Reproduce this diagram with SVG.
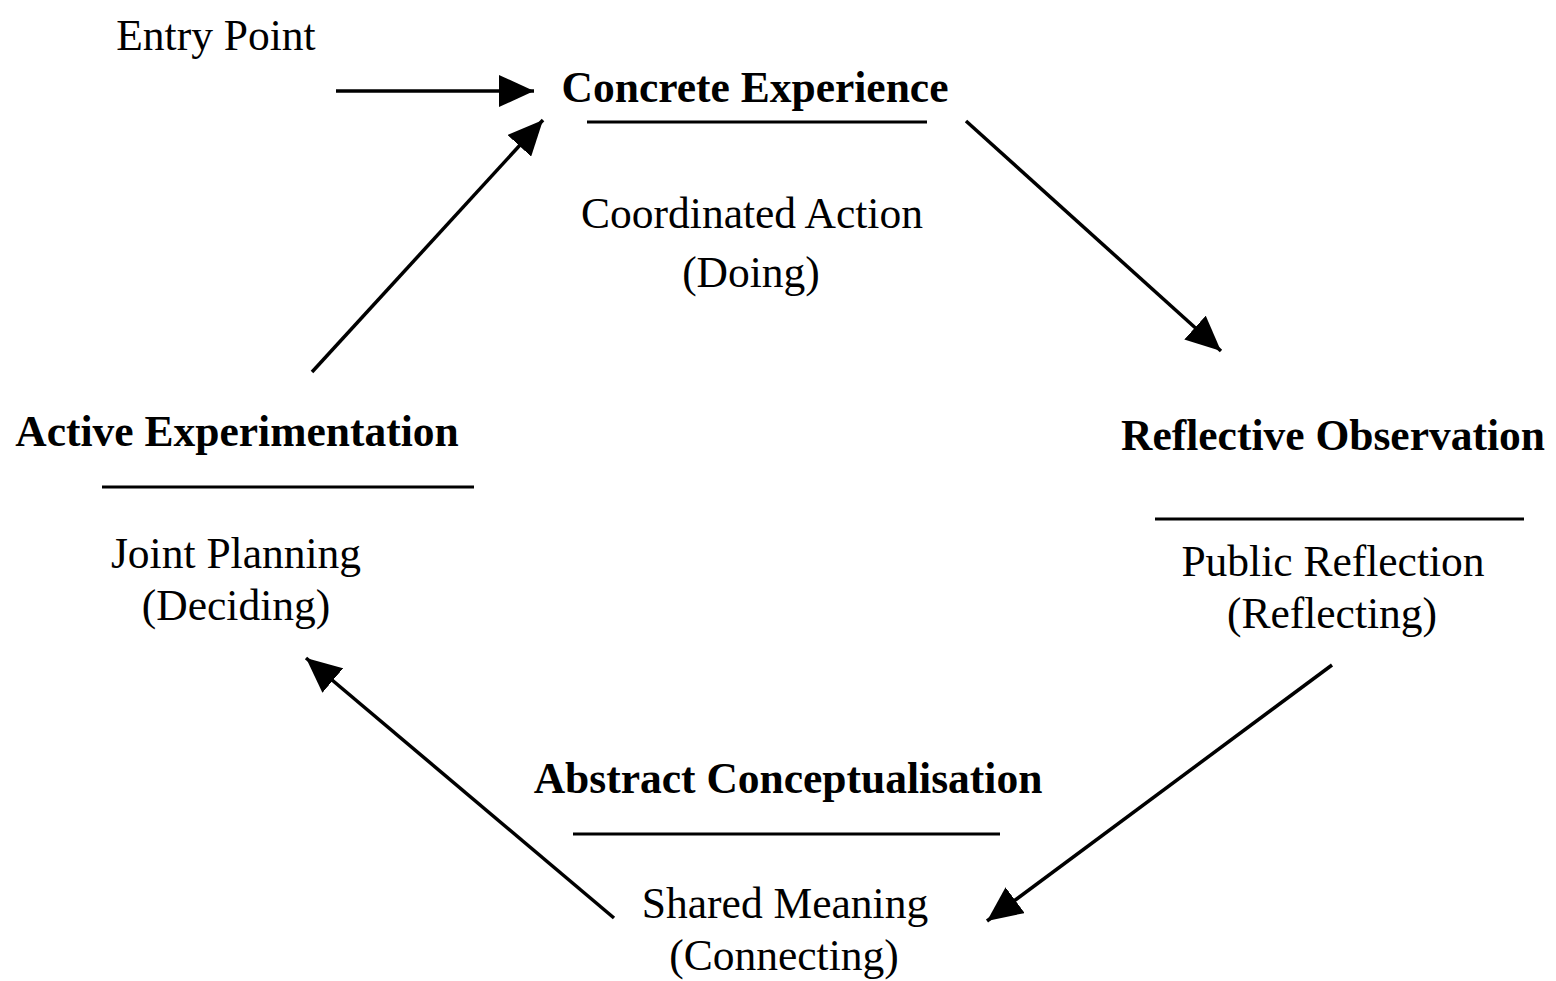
<svg xmlns="http://www.w3.org/2000/svg" width="1556" height="981" viewBox="0 0 1556 981">
<style>
text{font-family:"Liberation Serif","Times New Roman",serif;font-size:43.5px;fill:#000;text-anchor:middle}
.b{font-weight:bold}
.rule{stroke:#000;stroke-width:3}
.conn{stroke:#000;stroke-width:3.5;fill:none;marker-end:url(#ah)}
</style>
<defs>
<marker id="ah" markerUnits="userSpaceOnUse" markerWidth="36" markerHeight="32" refX="35" refY="16" orient="auto">
<path d="M0,0 L35,16 L0,32 Z" fill="#000"/>
</marker>
</defs>
<rect width="1556" height="981" fill="#fff"/>
<g id="entry"><text x="216" y="50">Entry Point</text></g>
<g id="concrete">
<text class="b" x="755" y="102">Concrete Experience</text>
<line class="rule" x1="587" y1="122" x2="927" y2="122"/>
<text x="752" y="228">Coordinated Action</text>
<text x="751" y="287">(Doing)</text>
</g>
<g id="reflective">
<text class="b" x="1333" y="450">Reflective Observation</text>
<line class="rule" x1="1155" y1="519" x2="1524" y2="519"/>
<text x="1333" y="576">Public Reflection</text>
<text x="1332" y="628">(Reflecting)</text>
</g>
<g id="abstract">
<text class="b" x="788" y="793">Abstract Conceptualisation</text>
<line class="rule" x1="573" y1="834" x2="1000" y2="834"/>
<text x="785" y="918">Shared Meaning</text>
<text x="784" y="970">(Connecting)</text>
</g>
<g id="active">
<text class="b" x="237" y="446">Active Experimentation</text>
<line class="rule" x1="102" y1="487" x2="474" y2="487"/>
<text x="236" y="568">Joint Planning</text>
<text x="236" y="620">(Deciding)</text>
</g>
<g id="connectors">
<line class="conn" x1="336" y1="91" x2="534" y2="91"/>
<line class="conn" x1="966" y1="121" x2="1221" y2="351"/>
<line class="conn" x1="1332" y1="665" x2="987" y2="921"/>
<line class="conn" x1="614" y1="918" x2="306" y2="658"/>
<line class="conn" x1="312" y1="372" x2="543" y2="120"/>
</g>
</svg>
